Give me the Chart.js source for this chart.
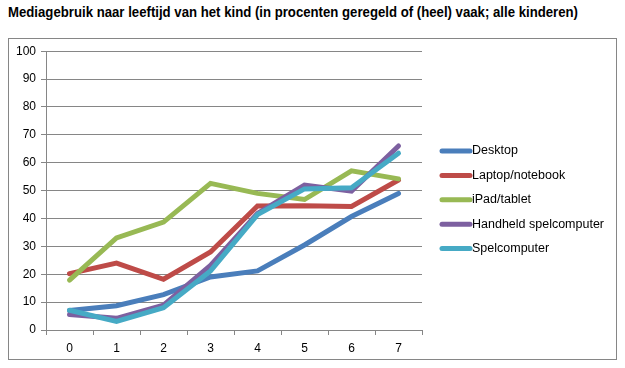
<!DOCTYPE html>
<html>
<head>
<meta charset="utf-8">
<script src="https://cdn.jsdelivr.net/npm/chart.js@4/dist/chart.umd.min.js"></script>
<style>
  html, body { margin: 0; padding: 0; background: #fff; }
  body { width: 625px; height: 368px; position: relative; overflow: hidden; font-family: "Liberation Sans", Arial, sans-serif; }
  #title { position: absolute; left: 8px; top: 4px; font-size: 14px; font-weight: bold; color: #000; white-space: nowrap; transform-origin: 0 0; }
  #frame { position: absolute; left: 8px; top: 38px; width: 607px; height: 320px; border: 1px solid #868686; }
  #wrap { position: absolute; left: 0; top: 0; width: 607px; height: 320px; }
</style>
</head>
<body>
<div id="title">Mediagebruik naar leeftijd van het kind (in procenten geregeld of (heel) vaak; alle kinderen)</div>
<div id="frame"><div id="wrap"><canvas id="c"></canvas></div></div>
<script>
const categories = ["0", "1", "2", "3", "4", "5", "6", "7"];
const seriesNames = ["Desktop", "Laptop/notebook", "iPad/tablet", "Handheld spelcomputer", "Spelcomputer"];
const desktop = [7, 8.7, 12.7, 19, 21.2, 30.5, 40.7, 49];
const laptop = [20.2, 24, 18.2, 28, 44.5, 44.6, 44.3, 53.8];
const ipad = [17.9, 33, 38.7, 52.6, 49, 46.8, 57.1, 54.2];
const handheld = [5.6, 4.2, 8.9, 23.2, 41.8, 52, 49.8, 66];
const spelcomputer = [7.1, 3.1, 8, 21.2, 41.4, 50.6, 51, 63.4];
const yTicks = [0, 10, 20, 30, 40, 50, 60, 70, 80, 90, 100];
const colors = ["#4A7EBB", "#BE4B48", "#98B954", "#7D60A0", "#46AAC5"];

// fit title width
const t = document.getElementById('title');
const targetW = 570;
const w = t.getBoundingClientRect().width;
if (w > 0) t.style.transform = 'scaleX(' + (targetW / w) + ')';

const allSeries = [desktop, laptop, ipad, handheld, spelcomputer];
const datasets = allSeries.map((d, i) => ({
  label: seriesNames[i],
  data: d,
  order: allSeries.length - i,
  borderColor: colors[i],
  backgroundColor: colors[i],
  borderWidth: 5,
  pointRadius: 0,
  tension: 0,
  fill: false,
  borderCapStyle: 'round',
  borderJoinStyle: 'miter'
}));

const legendPlugin = {
  id: 'customLegend',
  afterDraw(chart) {
    const ctx = chart.ctx;
    ctx.save();
    ctx.font = '12.5px "Liberation Sans", Arial, sans-serif';
    ctx.textBaseline = 'middle';
    chart.data.datasets.forEach((ds, i) => {
      const y = 112 + i * 24.4;
      ctx.strokeStyle = ds.borderColor;
      ctx.lineWidth = 5;
      ctx.lineCap = 'round';
      ctx.beginPath();
      ctx.moveTo(433, y);
      ctx.lineTo(461, y);
      ctx.stroke();
      ctx.fillStyle = '#000';
      ctx.fillText(ds.label, 463, y);
    });
    ctx.restore();
  }
};

new Chart(document.getElementById('c'), {
  type: 'line',
  data: { labels: categories, datasets },
  options: {
    responsive: true,
    maintainAspectRatio: false,
    animation: false,
    layout: { padding: { left: 0, right: 194, top: 11, bottom: 0 } },
    plugins: { legend: { display: false }, tooltip: { enabled: false }, title: { display: false } },
    scales: {
      x: {
        offset: true,
        grid: { display: true, drawOnChartArea: false, offset: true, color: '#868686', tickLength: 5, lineWidth: 1 },
        border: { display: true, color: '#868686' },
        ticks: { color: '#000', font: { size: 12, family: '"Liberation Sans", Arial, sans-serif' }, padding: 6, maxRotation: 0 },
        afterFit(scale) { scale.height = 29; }
      },
      y: {
        min: 0, max: 100,
        afterBuildTicks(scale) { scale.ticks = yTicks.map(v => ({ value: v })); },
        grid: { color: '#868686', tickLength: 5, lineWidth: 1 },
        border: { display: true, color: '#868686' },
        ticks: { color: '#000', font: { size: 12, family: '"Liberation Sans", Arial, sans-serif' }, padding: 5 },
        afterFit(scale) { scale.width = 37; }
      }
    }
  },
  plugins: [legendPlugin]
});
</script>
</body>
</html>
